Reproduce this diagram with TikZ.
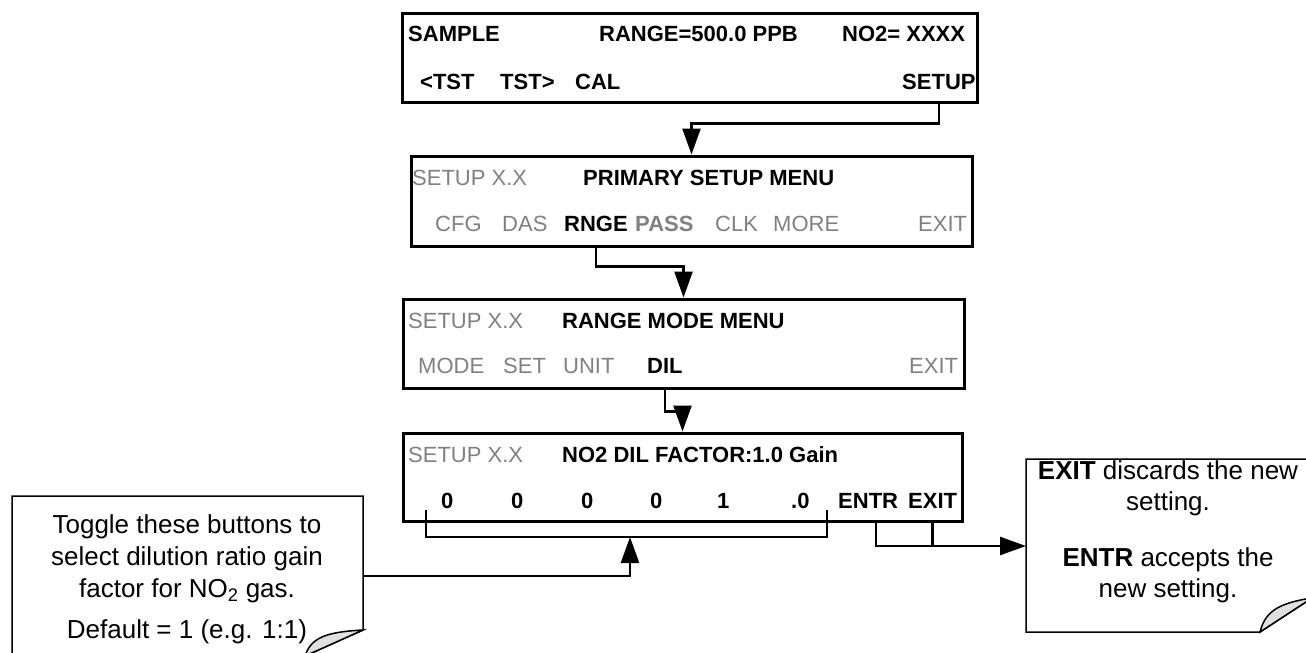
\documentclass[tikz,border=0pt]{standalone}
\usepackage{fontspec}
\setmainfont{Liberation Sans}
\usetikzlibrary{arrows.meta}
\tikzset{
	screen/.style={draw,line width=3pt,inner sep=0pt},
	lbl/.style={anchor=base west,inner sep=0pt,font=\fontsize{22}{26}\selectfont},
	lblb/.style={lbl,font=\fontsize{22}{26}\selectfont\bfseries},
	lblg/.style={lbl,text=\DIMCOLOR},
	lblgb/.style={lblb,text=\DIMCOLOR},
	notetxt/.style={anchor=base,inner sep=0pt,font=\fontsize{26}{31}\selectfont},
	note/.style={draw,line width=1.5pt,fill=white},
	fold/.style={draw,line width=1.5pt,fill=black!12},
	wire/.style={line width=2.5pt},
	link/.style={wire,-{Triangle[length=26pt,width=18pt]}}
}
\def\DIMCOLOR{gray}
\begin{document}
\begin{tikzpicture}[x=1pt,y=-1pt]
	\clip (0,0) rectangle (1306,653);

	% front panel screens
	\node[screen,minimum width=575pt,minimum height=89pt] (scrA) at (689.5,57.5) {};
	\node[screen,minimum width=561pt,minimum height=90pt] (scrB) at (691.5,201) {};
	\node[screen,minimum width=561pt,minimum height=89pt] (scrC) at (683.5,343.5) {};
	\node[screen,minimum width=559pt,minimum height=88pt] (scrD) at (682.5,477) {};

	% sample display
	\node[lblb] (sample) at (408,41) {SAMPLE};
	\node[lblb] (range) at (599,41) {RANGE=500.0 PPB};
	\node[lblb] (conc) at (842,41) {NO2= XXXX};
	\node[lblb] (tstl) at (420,89) {<TST};
	\node[lblb] (tstr) at (500,89) {TST>};
	\node[lblb] (cal) at (575,89) {CAL};
	\node[lblb] (setup) at (902,89) {SETUP};

	% primary setup menu
	\node[lblg] (verB) at (412,185) {SETUP X.X};
	\node[lblb] (titleB) at (583,185) {PRIMARY SETUP MENU};
	\node[lblg] (cfg) at (435,231) {CFG};
	\node[lblg] (das) at (502,231) {DAS};
	\node[lblb] (rnge) at (564,231) {RNGE};
	\node[lblgb] (pass) at (635,231) {PASS};
	\node[lblg] (clk) at (715,231) {CLK};
	\node[lblg] (more) at (773,231) {MORE};
	\node[lblg] (exitB) at (918,231) {EXIT};

	% range mode menu
	\node[lblg] (verC) at (408,328) {SETUP X.X};
	\node[lblb] (titleC) at (562,328) {RANGE MODE MENU};
	\node[lblg] (mode) at (418,373) {MODE};
	\node[lblg] (set) at (503,373) {SET};
	\node[lblg] (unit) at (563,373) {UNIT};
	\node[lblb] (dil) at (647,373) {DIL};
	\node[lblg] (exitC) at (909,373) {EXIT};

	% dilution factor
	\node[lblg] (verD) at (408,462) {SETUP X.X};
	\node[lblb] (titleD) at (562,462) {NO2 DIL FACTOR:1.0 Gain};
	\node[lblb] (digA) at (441,508) {0};
	\node[lblb] (digB) at (511,508) {0};
	\node[lblb] (digC) at (581,508) {0};
	\node[lblb] (digD) at (650,508) {0};
	\node[lblb] (digE) at (717,508) {1};
	\node[lblb] (digF) at (791,508) {.0};
	\node[lblb] (entr) at (838,508) {ENTR};
	\node[lblb] (exitD) at (908,508) {EXIT};

	% notes
	\draw[note] (12,496) -- (363,496) -- (363,630) -- (305,656) -- (12,656) -- cycle;
	\draw[fold] (305,656) .. controls (311,638) and (325,632) .. (363,630) -- cycle;
	\node[notetxt] (tipA) at (187,533) {Toggle these buttons to};
	\node[notetxt] (tipB) at (187,565) {select dilution ratio gain};
	\node[notetxt] (tipC) at (187,597) {factor for NO\textsubscript{2} gas.};
	\node[notetxt] (tipD) at (187,638) {Default = 1 (e.g. 1:1)};

	\draw[note] (1026,459) -- (1312,459) -- (1312,598) -- (1260,632) -- (1026,632) -- cycle;
	\draw[fold] (1260,632) .. controls (1265,612) and (1278,603) .. (1312,598) -- cycle;
	\node[notetxt] (infoA) at (1168,479) {\textbf{EXIT} discards the new};
	\node[notetxt] (infoB) at (1168,510) {setting.};
	\node[notetxt] (infoC) at (1168,566) {\textbf{ENTR} accepts the};
	\node[notetxt] (infoD) at (1168,597) {new setting.};

	\coordinate (lnoteE) at (363,576);
	\coordinate (rnoteW) at (1026,546);
	\coordinate (brL) at (426,510);
	\coordinate (brR) at (827,510);
	\coordinate (brMid) at (630,537);

	% connectors
	\draw[link] (setup |- scrA.south) -- ++(0,20) -| (scrB.north);
	\draw[link] (rnge |- scrB.south) -- ++(0,19) -| (scrC.north);
	\draw[link] (dil |- scrC.south) -- ++(0,22) -| (scrD.north);
	\draw[wire] (brL) |- (brMid) -| (brR);
	\draw[link] (lnoteE) -| (brMid);
	\draw[wire] ([xshift=8pt]entr.center |- scrD.south) |- (exitD |- rnoteW);
	\draw[link] (exitD |- scrD.south) -- (exitD |- rnoteW) -- (rnoteW);

\end{tikzpicture}
\end{document}
